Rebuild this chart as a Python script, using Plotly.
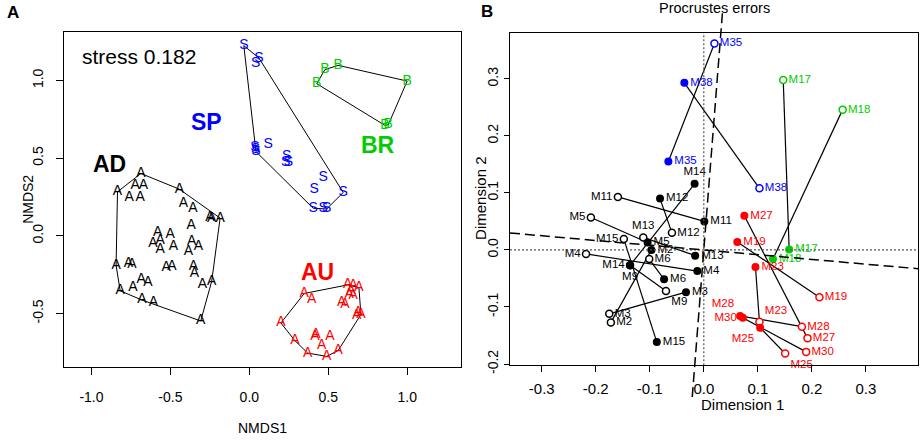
import plotly.graph_objects as go

# ---------------- panel A : NMDS ordination ----------------
ad_x = [-0.687, -0.723, -0.671, -0.835, -0.761, -0.692, -0.443, -0.418, -0.358, -0.249,
        -0.238, -0.185, -0.369, -0.580, -0.502, -0.611, -0.565, -0.565, -0.481, -0.365,
        -0.323, -0.386, -0.844, -0.766, -0.744, -0.527, -0.491, -0.354, -0.348, -0.685,
        -0.643, -0.738, -0.818, -0.297, -0.238, -0.681, -0.607, -0.308]
ad_y = [0.401, 0.321, 0.321, 0.283, 0.247, 0.247, 0.300, 0.205, 0.177, 0.120,
        0.110, 0.114, 0.068, 0.022, 0.009, -0.048, -0.027, -0.086, -0.070, -0.038,
        -0.070, -0.101, -0.190, -0.179, -0.185, -0.206, -0.196, -0.196, -0.242, -0.280,
        -0.301, -0.333, -0.354, -0.312, -0.291, -0.413, -0.432, -0.548]

sp_x = [-0.035, 0.061, 0.040, 0.036, 0.042, 0.038, 0.120, 0.237, 0.247, 0.230,
        0.468, 0.410, 0.595, 0.405, 0.468, 0.490]
sp_y = [1.224, 1.144, 1.112, 0.568, 0.542, 0.555, 0.585, 0.511, 0.473, 0.473,
        0.376, 0.300, 0.279, 0.177, 0.173, 0.173]

br_x = [0.479, 0.563, 0.427, 1.000, 0.859, 0.880]
br_y = [1.070, 1.097, 0.979, 0.996, 0.711, 0.714]

au_x = [0.348, 0.395, 0.623, 0.658, 0.694, 0.644, 0.658, 0.633, 0.585, 0.606, 0.690,
        0.680, 0.707, 0.200, 0.422, 0.416, 0.511, 0.289, 0.458, 0.563, 0.370, 0.490]
au_y = [-0.371, -0.407, -0.316, -0.323, -0.333, -0.354, -0.386, -0.375, -0.428, -0.439, -0.491,
        -0.513, -0.506, -0.561, -0.633, -0.649, -0.649, -0.675, -0.709, -0.738, -0.755, -0.776]

group_names = ["AD", "SP", "BR", "AU"]
group_letters = ["A", "S", "B", "A"]
group_label_x = [-0.886, -0.27, 0.817, 0.43]
group_label_y = [0.462, 0.732, 0.585, -0.232]
stress = 0.182

# ---------------- panel B : Procrustes ----------------
blk_names = ["M11", "M12", "M14", "M5", "M13", "M15", "M2", "M4", "M6", "M9", "M3"]
blk_open_x = [-0.159, -0.059, -0.1365, -0.209, -0.112, -0.148, -0.172, -0.218, -0.101, -0.070, -0.175]
blk_open_y = [0.093, 0.030, -0.027, 0.057, 0.022, 0.019, -0.127, -0.007, -0.016, -0.072, -0.112]
blk_fill_x = [0.001, -0.081, -0.017, -0.104, -0.016, -0.087, -0.097, -0.012, -0.0735, -0.1365, -0.033]
blk_fill_y = [0.050, 0.090, 0.116, 0.013, -0.010, -0.1615, 0.000, -0.037, -0.0515, -0.027, -0.074]
blk_open_pos = ["middle left", "middle right", "middle left", "middle left", "top center", "middle left",
                "middle right", "middle left", "middle right", "bottom right", "middle right"]
blk_fill_pos = ["middle right", "middle right", "top center", "middle right", "middle right", "middle right",
                "middle right", "middle right", "middle right", "bottom center", "middle right"]

blu_names = ["M35", "M38"]
blu_open_x = [0.0197, 0.103]
blu_open_y = [0.362, 0.108]
blu_fill_x = [-0.0656, -0.036]
blu_fill_y = [0.155, 0.293]

grn_names = ["M17", "M18"]
grn_open_x = [0.147, 0.257]
grn_open_y = [0.298, 0.246]
grn_fill_x = [0.158, 0.128]
grn_fill_y = [0.001, -0.016]

red_names = ["M27", "M19", "M23", "M28", "M30", "M25"]
red_open_x = [0.1919, 0.214, 0.103, 0.1815, 0.1894, 0.1506]
red_open_y = [-0.1546, -0.083, -0.126, -0.1345, -0.1787, -0.1816]
red_fill_x = [0.075, 0.062, 0.0956, 0.0672, 0.0722, 0.1043]
red_fill_y = [0.060, 0.014, -0.030, -0.1156, -0.119, -0.1363]
red_open_pos = ["middle right", "middle right", "top right", "middle right", "middle right", "bottom right"]
red_fill_pos = ["middle right", "middle right", "middle right", "top left", "middle left", "bottom left"]

rot_slope = 0.083   # tangent of the procrustes rotation

# ---------------- styling / layout ----------------
FONT = "Liberation Sans, Arial, sans-serif"
BLACK, BLUE, GREEN, RED = "#000000", "#0000FF", "#00CD00", "#FF0000"
W, H = 921, 445

XA_DOM, YA_DOM = [64 / W, 460.7 / W], [1 - 375 / H, 1 - 32.3 / H]
XB_DOM, YB_DOM = [510 / W, 918.3 / W], [1 - 372.7 / H, 1 - 33.3 / H]
XA_RNG, YA_RNG = [-1.174, 1.339], [-0.847, 1.314]
XB_RNG, YB_RNG = [-0.3587, 0.397], [-0.202, 0.381]


def hull(xs, ys):
    pts = sorted(set(zip(xs, ys)))

    def cross(o, a, b):
        return (a[0] - o[0]) * (b[1] - o[1]) - (a[1] - o[1]) * (b[0] - o[0])

    lower, upper = [], []
    for p in pts:
        while len(lower) >= 2 and cross(lower[-2], lower[-1], p) <= 0:
            lower.pop()
        lower.append(p)
    for p in reversed(pts):
        while len(upper) >= 2 and cross(upper[-2], upper[-1], p) <= 0:
            upper.pop()
        upper.append(p)
    h = lower[:-1] + upper[:-1]
    h.append(h[0])
    return [p[0] for p in h], [p[1] for p in h]


def to_paper_b(x, y):
    px = XB_DOM[0] + (x - XB_RNG[0]) / (XB_RNG[1] - XB_RNG[0]) * (XB_DOM[1] - XB_DOM[0])
    py = YB_DOM[0] + (y - YB_RNG[0]) / (YB_RNG[1] - YB_RNG[0]) * (YB_DOM[1] - YB_DOM[0])
    return px, py


fig = go.Figure()

groups = [(ad_x, ad_y, BLACK), (sp_x, sp_y, BLUE), (br_x, br_y, GREEN), (au_x, au_y, RED)]
for (gx, gy, col) in groups:
    hx, hy = hull(gx, gy)
    fig.add_trace(go.Scatter(x=hx, y=hy, mode="lines", line=dict(color="black", width=1),
                             xaxis="x", yaxis="y", showlegend=False, hoverinfo="skip"))
for (gx, gy, col), letter in zip(groups, group_letters):
    fig.add_trace(go.Scatter(x=gx, y=gy, mode="text", text=[letter] * len(gx),
                             textfont=dict(family=FONT, size=14, color=col),
                             xaxis="x", yaxis="y", showlegend=False, cliponaxis=False))
for name, lx, ly, (_, _, col) in zip(group_names, group_label_x, group_label_y, groups):
    fig.add_annotation(x=lx, y=ly, xref="x", yref="y", text="<b>%s</b>" % name, showarrow=False,
                       font=dict(family=FONT, size=23, color=col))
fig.add_annotation(x=-1.07, y=1.156, xref="x", yref="y", xanchor="left", showarrow=False,
                   text="stress %.3f" % stress, font=dict(family=FONT, size=21, color="black"))

# panel B reference lines
fig.add_shape(type="line", xref="x2", yref="y2", x0=0, x1=0, y0=YB_RNG[0], y1=YB_RNG[1],
              line=dict(color="#555555", width=1.2, dash="2px,2px"))
fig.add_shape(type="line", xref="x2", yref="y2", x0=XB_RNG[0], x1=XB_RNG[1], y0=0, y1=0,
              line=dict(color="#555555", width=1.2, dash="2px,2px"))
fig.add_shape(type="line", xref="x2", yref="y2",
              x0=XB_RNG[0], y0=-rot_slope * XB_RNG[0], x1=XB_RNG[1], y1=-rot_slope * XB_RNG[1],
              line=dict(color="black", width=1.5, dash="10px,5px"))
vx0, vy0 = to_paper_b(rot_slope * 0.415, 0.415)
vx1, vy1 = to_paper_b(rot_slope * -0.263, -0.263)
fig.add_shape(type="line", xref="paper", yref="paper", x0=vx0, y0=vy0, x1=vx1, y1=vy1,
              line=dict(color="black", width=1.5, dash="10px,5px"))

sets = [
    (blk_names, blk_open_x, blk_open_y, blk_fill_x, blk_fill_y, blk_open_pos, blk_fill_pos, BLACK),
    (blu_names, blu_open_x, blu_open_y, blu_fill_x, blu_fill_y, "middle right", "middle right", BLUE),
    (grn_names, grn_open_x, grn_open_y, grn_fill_x, grn_fill_y, "middle right", "middle right", GREEN),
    (red_names, red_open_x, red_open_y, red_fill_x, red_fill_y, red_open_pos, red_fill_pos, RED),
]

sx, sy = [], []
for names, ox, oy, fx, fy, _, _, _ in sets:
    for a, b, c, d in zip(ox, oy, fx, fy):
        sx += [a, c, None]
        sy += [b, d, None]
fig.add_trace(go.Scatter(x=sx, y=sy, mode="lines", line=dict(color="black", width=1.2),
                         xaxis="x2", yaxis="y2", showlegend=False, hoverinfo="skip"))

for names, ox, oy, fx, fy, opos, fpos, col in sets:
    fig.add_trace(go.Scatter(x=ox, y=oy, mode="markers+text", text=names, textposition=opos,
                             marker=dict(color="white", size=7, line=dict(color=col, width=1.5)),
                             textfont=dict(family=FONT, size=11.5, color=col),
                             xaxis="x2", yaxis="y2", showlegend=False, cliponaxis=False))
    fig.add_trace(go.Scatter(x=fx, y=fy, mode="markers+text", text=names, textposition=fpos,
                             marker=dict(color=col, size=8),
                             textfont=dict(family=FONT, size=11.5, color=col),
                             xaxis="x2", yaxis="y2", showlegend=False, cliponaxis=False))

axis_common = dict(showgrid=False, zeroline=False, showline=True, mirror=True, linecolor="black",
                   linewidth=1, ticks="outside", tickcolor="black", tickwidth=1)

fig.update_layout(
    width=W, height=H, margin=dict(l=0, r=0, t=0, b=0),
    paper_bgcolor="white", plot_bgcolor="white", showlegend=False, hovermode=False,
    xaxis=dict(domain=XA_DOM, range=XA_RNG, anchor="y", tickvals=[-1, -0.5, 0, 0.5, 1],
               ticktext=["-1.0", "-0.5", "0.0", "0.5", "1.0"], ticklen=7, ticklabelstandoff=10,
               tickfont=dict(family=FONT, size=14, color="black"), **axis_common),
    yaxis=dict(domain=YA_DOM, range=YA_RNG, anchor="x", tickvals=[-0.5, 0, 0.5, 1],
               ticktext=["-0.5", "0.0", "0.5", "1.0"], ticklen=7, tickangle=-90, ticklabelstandoff=7,
               tickfont=dict(family=FONT, size=14, color="black"), **axis_common),
    xaxis2=dict(domain=XB_DOM, range=XB_RNG, anchor="y2", tickvals=[-0.3, -0.2, -0.1, 0, 0.1, 0.2, 0.3],
                ticktext=["-0.3", "-0.2", "-0.1", "0.0", "0.1", "0.2", "0.3"], ticklen=6, ticklabelstandoff=4,
                tickfont=dict(family=FONT, size=15, color="black"), **axis_common),
    yaxis2=dict(domain=YB_DOM, range=YB_RNG, anchor="x2", tickvals=[-0.2, -0.1, 0, 0.1, 0.2, 0.3],
                ticktext=["-0.2", "-0.1", "0.0", "0.1", "0.2", "0.3"], ticklen=5, tickangle=-90,
                ticklabelstandoff=0, tickfont=dict(family=FONT, size=14, color="black"), **axis_common),
)

texts = [
    ("<b>A</b>", 13, 13, 17, 0), ("<b>B</b>", 487, 12, 17, 0),
    ("NMDS1", 262, 437, 14, 0), ("NMDS2", 28, 204, 14, -90),
    ("Dimension 1", 742, 413, 15, 0), ("Dimension 2", 481, 203, 15, -90),
    ("Procrustes errors", 714, 8, 14.5, 0),
]
for t, px, py, fs, ang in texts:
    fig.add_annotation(x=px / W, y=1 - py / H, xref="paper", yref="paper", text=t, showarrow=False,
                       textangle=ang, xanchor="center", yanchor="middle",
                       font=dict(family=FONT, size=fs, color="black"))

fig.write_html("out.html", post_script="document.body.style.margin='0';",
               config={"displayModeBar": False})
